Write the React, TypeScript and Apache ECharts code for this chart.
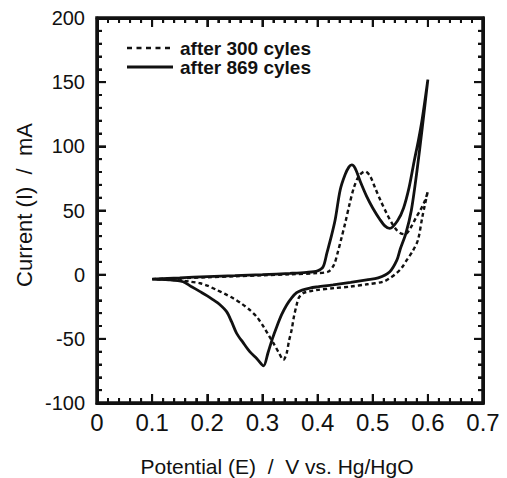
import React, { useEffect, useRef } from "react";
import * as echarts from "echarts";

const seriesNames = ["after 300 cyles", "after 869 cyles"];
const xTickValues = [0, 0.1, 0.2, 0.3, 0.4, 0.5, 0.6, 0.7];
const yTickValues = [-100, -50, 0, 50, 100, 150, 200];

// after 300 cycles (dashed): potential (V), current (mA), in sweep order
const cycles300: [number, number][] = [
  [0.1, -3.5], [0.15, -2.8], [0.2, -2], [0.25, -1.3], [0.3, -0.5], [0.35, 0.3], [0.4, 1.2],
  [0.42, 2.5], [0.43, 8], [0.437, 18], [0.443, 28], [0.45, 40], [0.458, 55], [0.466, 68],
  [0.475, 77], [0.486, 80.5], [0.495, 77], [0.504, 68], [0.515, 57], [0.525, 48], [0.535, 40],
  [0.544, 34.5], [0.552, 32], [0.559, 31.5], [0.568, 36], [0.578, 44], [0.586, 50], [0.595, 58],
  [0.6, 65],
  [0.59, 45], [0.582, 27], [0.572, 18], [0.562, 11.5], [0.552, 5], [0.543, 1.1], [0.53, -3],
  [0.519, -5.5], [0.49, -7.5], [0.459, -9.3], [0.43, -10.5], [0.398, -12], [0.385, -13],
  [0.374, -14.4], [0.366, -18], [0.362, -23.6], [0.357, -33], [0.353, -43], [0.348, -52],
  [0.344, -61], [0.338, -66.4], [0.33, -61], [0.32, -53.4], [0.311, -47], [0.302, -40.5],
  [0.29, -33], [0.277, -27.5], [0.262, -22.5], [0.247, -18.4], [0.232, -15], [0.217, -11.9],
  [0.2, -8.5], [0.187, -6.7], [0.17, -5.5], [0.156, -4.7], [0.13, -4], [0.1, -3.5],
];

// after 869 cycles (solid)
const cycles869: [number, number][] = [
  [0.1, -3.5], [0.15, -2.5], [0.2, -1.5], [0.25, -0.8], [0.3, 0], [0.35, 1], [0.38, 1.8],
  [0.4, 3], [0.41, 6], [0.417, 17], [0.425, 30], [0.432, 43], [0.441, 66], [0.45, 78],
  [0.457, 84], [0.462, 85.5], [0.468, 83], [0.478, 72], [0.489, 61], [0.5, 52], [0.513, 43],
  [0.522, 38], [0.531, 36], [0.545, 42], [0.556, 52], [0.566, 68], [0.575, 88], [0.583, 105],
  [0.59, 122], [0.6, 152],
  [0.59, 115], [0.58, 80], [0.57, 50], [0.56, 32], [0.55, 20], [0.544, 11.5], [0.531, 2.3],
  [0.51, -2.5], [0.489, -4], [0.46, -6], [0.428, -8], [0.4, -9.5], [0.386, -10.4], [0.372, -12],
  [0.362, -14], [0.353, -18], [0.344, -23.6], [0.335, -31], [0.326, -40.5], [0.318, -50],
  [0.31, -61], [0.302, -71], [0.29, -65.5], [0.277, -60], [0.265, -53], [0.253, -45.5],
  [0.244, -36.6], [0.235, -28.8], [0.222, -23], [0.211, -19.7], [0.2, -16.5], [0.187, -13.2],
  [0.17, -9], [0.156, -5.5], [0.13, -4], [0.1, -3.5],
];

const FONT = "'Liberation Sans', Arial, Helvetica, sans-serif";
const INK = "#111111";
const MINOR_SPLIT = 5;

function makeXAxis(position: string, showLabel: boolean) {
  return {
    type: "value",
    position,
    min: xTickValues[0],
    max: xTickValues[xTickValues.length - 1],
    interval: 0.1,
    axisLine: { show: true, onZero: false, lineStyle: { color: INK, width: 3 } },
    axisTick: { show: true, inside: true, length: 9, lineStyle: { color: INK, width: 2 } },
    minorTick: { show: true, splitNumber: MINOR_SPLIT, length: 5, lineStyle: { color: INK, width: 2 } },
    splitLine: { show: false },
    axisLabel: {
      show: showLabel,
      margin: 7,
      color: INK,
      fontSize: 24,
      fontFamily: FONT,
      formatter: (v: number) => (v === 0 ? "0" : v.toFixed(1)),
    },
  };
}

function makeYAxis(position: string, showLabel: boolean) {
  return {
    type: "value",
    position,
    min: yTickValues[0],
    max: yTickValues[yTickValues.length - 1],
    interval: 50,
    axisLine: { show: true, onZero: false, lineStyle: { color: INK, width: 3 } },
    axisTick: { show: true, inside: true, length: 9, lineStyle: { color: INK, width: 2 } },
    minorTick: { show: true, splitNumber: MINOR_SPLIT, length: 5, lineStyle: { color: INK, width: 2 } },
    splitLine: { show: false },
    axisLabel: { show: showLabel, margin: 12, color: INK, fontSize: 20, fontFamily: FONT },
  };
}

function withMinors(majors: number[]): { v: number; major: boolean }[] {
  const out: { v: number; major: boolean }[] = [];
  for (let i = 0; i < majors.length; i++) {
    out.push({ v: majors[i], major: true });
    if (i < majors.length - 1) {
      const step = (majors[i + 1] - majors[i]) / MINOR_SPLIT;
      for (let k = 1; k < MINOR_SPLIT; k++) out.push({ v: majors[i] + step * k, major: false });
    }
  }
  return out;
}

export default function App() {
  const ref = useRef<HTMLDivElement>(null);
  useEffect(() => {
    if (!ref.current) return;
    const chart = echarts.init(ref.current, undefined, { renderer: "svg" });
    chart.setOption({
      animation: false,
      backgroundColor: "#ffffff",
      grid: { left: 97, right: 24, top: 18, bottom: 75 },
      xAxis: [makeXAxis("bottom", true), makeXAxis("top", false)],
      yAxis: [makeYAxis("left", true), makeYAxis("right", false)],
      series: [
        {
          name: seriesNames[0],
          type: "line",
          data: cycles300,
          showSymbol: false,
          symbol: "none",
          smooth: 0.3,
          lineStyle: { color: INK, width: 2.4, type: [4, 3] },
        },
        {
          name: seriesNames[1],
          type: "line",
          data: cycles869,
          showSymbol: false,
          symbol: "none",
          smooth: 0.3,
          lineStyle: { color: INK, width: 2.8 },
        },
      ],
    });

    // frame and inward ticks, placed through the chart's own scales
    const xMin = xTickValues[0];
    const xMax = xTickValues[xTickValues.length - 1];
    const yMin = yTickValues[0];
    const yMax = yTickValues[yTickValues.length - 1];
    const [left, bottom] = chart.convertToPixel({ gridIndex: 0 }, [xMin, yMin]) as number[];
    const [right, top] = chart.convertToPixel({ gridIndex: 0 }, [xMax, yMax]) as number[];
    const tickEls: any[] = [];
    const tickStyle = { stroke: INK, lineWidth: 2 };
    withMinors(xTickValues).forEach(({ v, major }) => {
      const px = chart.convertToPixel({ xAxisIndex: 0 }, v) as number;
      const len = major ? 9 : 5;
      tickEls.push({ type: "line", silent: true, z: 50, shape: { x1: px, y1: bottom, x2: px, y2: bottom - len }, style: tickStyle });
      tickEls.push({ type: "line", silent: true, z: 50, shape: { x1: px, y1: top, x2: px, y2: top + len }, style: tickStyle });
    });
    withMinors(yTickValues).forEach(({ v, major }) => {
      const py = chart.convertToPixel({ yAxisIndex: 0 }, v) as number;
      const len = major ? 9 : 5;
      tickEls.push({ type: "line", silent: true, z: 50, shape: { x1: left, y1: py, x2: left + len, y2: py }, style: tickStyle });
      tickEls.push({ type: "line", silent: true, z: 50, shape: { x1: right, y1: py, x2: right - len, y2: py }, style: tickStyle });
    });

    chart.setOption({
      graphic: [
        {
          type: "rect",
          silent: true,
          z: 51,
          shape: { x: left, y: top, width: right - left, height: bottom - top },
          style: { fill: "none", stroke: INK, lineWidth: 3.5 },
        },
        ...tickEls,
        {
          type: "line",
          shape: { x1: 127, y1: 48, x2: 173, y2: 48 },
          style: { stroke: INK, lineWidth: 2.4, lineDash: [5, 4.5] },
        },
        {
          type: "text",
          x: 180,
          y: 48,
          style: { text: seriesNames[0], fontSize: 19, fontWeight: "bold", fontFamily: FONT, fill: INK, verticalAlign: "middle" },
        },
        {
          type: "line",
          shape: { x1: 127, y1: 67, x2: 173, y2: 67 },
          style: { stroke: INK, lineWidth: 2.8 },
        },
        {
          type: "text",
          x: 180,
          y: 67,
          style: { text: seriesNames[1], fontSize: 19, fontWeight: "bold", fontFamily: FONT, fill: INK, verticalAlign: "middle" },
        },
        {
          type: "text",
          x: 24,
          y: 205,
          rotation: Math.PI / 2,
          style: { text: "Current (I)  /  mA", fontSize: 22, fontFamily: FONT, fill: INK, align: "center", verticalAlign: "middle" },
        },
        {
          type: "text",
          x: 277,
          y: 466,
          style: { text: "Potential (E)  /  V vs. Hg/HgO", fontSize: 21, fontFamily: FONT, fill: INK, align: "center", verticalAlign: "middle" },
        },
      ],
    });
    return () => chart.dispose();
  }, []);
  return (
    <div>
      <div ref={ref} style={{ width: 507, height: 478, position: "absolute", left: 0, top: 0 }} />
    </div>
  );
}
